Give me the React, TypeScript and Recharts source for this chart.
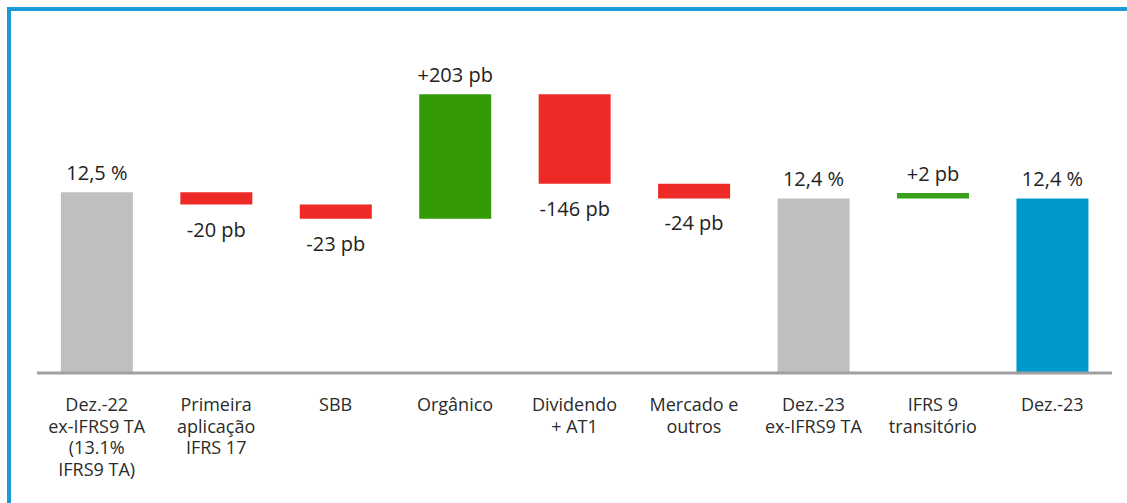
import React from "react";
import { BarChart, Bar, XAxis, YAxis, Cell, LabelList } from "recharts";

const categories = [
  "Dez.-22\nex-IFRS9 TA\n(13.1%\nIFRS9 TA)",
  "Primeira\naplicação\nIFRS 17",
  "SBB",
  "Orgânico",
  "Dividendo\n+ AT1",
  "Mercado e\noutros",
  "Dez.-23\nex-IFRS9 TA",
  "IFRS 9\ntransitório",
  "Dez.-23",
];

// values in basis points; totals are absolute levels, the rest are changes
const kinds = ["total", "delta", "delta", "delta", "delta", "delta", "total", "delta", "total"];
const values = [1250, -20, -23, 203, -146, -24, 1240, 2, 1240];
const barLabels = ["12,5 %", "-20 pb", "-23 pb", "+203 pb", "-146 pb", "-24 pb", "12,4 %", "+2 pb", "12,4 %"];
const barColors = ["#bfbfbf", "#ee2a26", "#ee2a26", "#339905", "#ee2a26", "#ee2a26", "#bfbfbf", "#3aa11a", "#0099cc"];

const Y_MIN = 955;
const Y_MAX = 1422;
const MIN_THICK = 9; // tiny changes still get a visible bar

let running = 0;
const data = categories.map((name, i) => {
  let range: [number, number];
  if (kinds[i] === "total") {
    range = [Y_MIN, values[i]];
    running = values[i];
  } else {
    const end = running + values[i];
    const lo = Math.min(running, end);
    let hi = Math.max(running, end);
    if (hi - lo < MIN_THICK) hi = lo + MIN_THICK;
    range = [lo, hi];
    running = end;
  }
  return { name, range, label: barLabels[i], neg: values[i] < 0 };
});

const Tick = (props: any) => {
  const { x, y, payload } = props;
  const lines = String(payload.value).split("\n");
  return (
    <text x={x} y={y} textAnchor="middle" fill="#2b2b2b" fontSize={18} fontFamily="'Open Sans', sans-serif">
      {lines.map((l, i) => (
        <tspan key={i} x={x} dy={i === 0 ? 30 : 21.7}>
          {l}
        </tspan>
      ))}
    </text>
  );
};

const BarLabel = (props: any) => {
  const { x, y, width, height, index } = props;
  const d = data[index];
  const ty = d.neg ? y + height + 32 : y - 12;
  return (
    <text
      x={x + width / 2}
      y={ty}
      textAnchor="middle"
      fill="#222"
      fontSize={20}
      fontFamily="'Open Sans', sans-serif"
    >
      {d.label}
    </text>
  );
};

export default function App() {
  return (
    <div style={{ position: "absolute", left: 0, top: 0, width: 1127, height: 503, background: "#fff" }}>
      <div
        style={{
          position: "absolute",
          left: 7,
          top: 7,
          right: 0,
          bottom: 0,
          borderTop: "4px solid #1b9ad6",
          borderLeft: "4px solid #1b9ad6",
        }}
      />
      <div style={{ position: "absolute", left: 0, top: 0 }}>
        <BarChart
          width={1127}
          height={503}
          data={data}
          margin={{ top: 87, right: 15, left: 37, bottom: 5 }}
          barCategoryGap="20%"
        >
          <YAxis hide domain={[Y_MIN, Y_MAX]} allowDataOverflow />
          <XAxis
            dataKey="name"
            height={125}
            interval={0}
            tickLine={false}
            axisLine={{ stroke: "#a0a0a0", strokeWidth: 3 }}
            tick={<Tick />}
          />
          <Bar dataKey="range" isAnimationActive={false}>
            {data.map((d, i) => (
              <Cell key={i} fill={barColors[i]} />
            ))}
            <LabelList dataKey="label" content={<BarLabel />} />
          </Bar>
        </BarChart>
      </div>
    </div>
  );
}
